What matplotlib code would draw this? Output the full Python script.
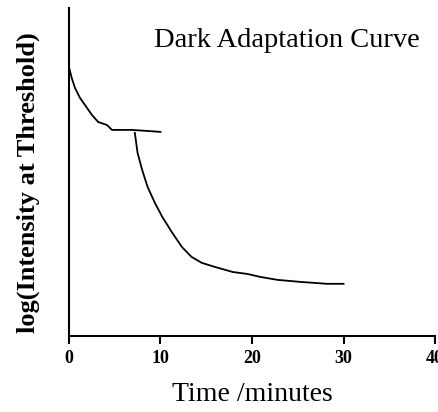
import matplotlib.pyplot as plt

# 錐体(cone)の区間
cone_t = [0, 0.3, 0.66, 1.2, 1.75, 2.5, 3.2, 4.15, 4.7, 6.9, 10.0]
cone_v = [8.2, 7.87, 7.56, 7.26, 7.04, 6.74, 6.52, 6.43, 6.28, 6.28, 6.22]

# 杆体(rod)の区間
rod_t = [7.2, 7.5, 8.0, 8.6, 9.4, 10.2, 11.3, 12.35, 13.4, 14.5, 16.0,
         17.9, 19.5, 20.9, 22.8, 25.2, 28.2, 30.0]
rod_v = [6.19, 5.58, 5.06, 4.54, 4.05, 3.63, 3.14, 2.71, 2.41, 2.23, 2.10,
         1.95, 1.89, 1.80, 1.71, 1.65, 1.59, 1.59]

x_ticks = [0, 10, 20, 30, 40]

plt.rcParams['font.family'] = ['Liberation Serif', 'DejaVu Serif']

fig = plt.figure(figsize=(4.39, 4.12), dpi=100)
ax = fig.add_axes([0.157, 0.1845, 0.834, 0.7965])

ax.plot(cone_t, cone_v, color='black', lw=1.3)
ax.plot(rod_t, rod_v, color='black', lw=1.3)

ax.set_xlim(0, 40)
ax.set_ylim(0, 10)
ax.set_xticks(x_ticks)
ax.set_yticks([])
ax.tick_params(axis='x', direction='out', length=6, width=1.5,
               labelsize=13, pad=4)
for lab in ax.get_xticklabels():
    lab.set_fontweight('bold')

for s in ['top', 'right']:
    ax.spines[s].set_visible(False)
for s in ['left', 'bottom']:
    ax.spines[s].set_linewidth(1.5)

ax.set_xlabel('Time /minutes', fontsize=20, labelpad=11)
# 縦軸ラベル（少し下寄り）
fig.text(28 / 439, 1 - 183 / 412, 'log(Intensity at Threshold)',
         rotation=90, ha='center', va='center', fontsize=19,
         fontweight='bold')
ax.text(0.595, 0.9, 'Dark Adaptation Curve', transform=ax.transAxes,
        ha='center', va='center', fontsize=20.5)

fig.savefig('out.png', dpi=100)
